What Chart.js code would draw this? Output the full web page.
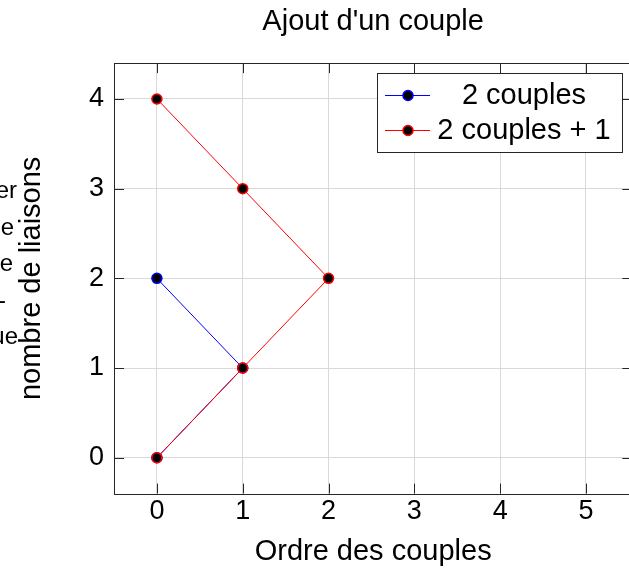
<!DOCTYPE html>
<html>
<head>
<meta charset="utf-8">
<style>
  html, body { margin: 0; padding: 0; overflow: hidden; background: #fff; width: 629px; height: 570px; }
  #wrap { position: relative; width: 640px; height: 570px; }
</style>
<script src="https://cdn.jsdelivr.net/npm/chart.js@4/dist/chart.umd.min.js"></script>
</head>
<body>
<div id="wrap"><canvas id="c" width="640" height="570"></canvas></div>
<script>
// Series: order of the couple (x) against number of links (y), points joined in order
const orderTwoCouples = [0, 1, 0];
const linksTwoCouples = [2, 1, 0];
const orderTwoCouplesPlusOne = [0, 1, 2, 1, 0];
const linksTwoCouplesPlusOne = [4, 3, 2, 1, 0];

const seriesNames = ['2 couples', '2 couples + 1'];
const xTickValues = [0, 1, 2, 3, 4, 5];
const yTickValues = [0, 1, 2, 3, 4];

const chartTitle = "Ajout d'un couple";
const xAxisTitle = 'Ordre des couples';
const yAxisTitle = 'nombre de liaisons';
// Second label block, mostly running off the left edge of the figure
const sideLabelLines = ['liaisons à ajouter', 'pour relier le', 'nouveau couple', 'au graphe -', 'ordre unique'];

const FONT = "'Liberation Sans', Arial, Helvetica, sans-serif";
const AXIS_COLOR = '#262626';
const GRID_COLOR = '#d9d9d9';

const toPoints = (xs, ys) => xs.map((x, i) => ({ x: x, y: ys[i] }));

// Frame around the plot area with inward tick marks on all four sides
const framePlugin = {
  id: 'frame',
  beforeDatasetsDraw(chart) {
    const { ctx, chartArea: a, scales } = chart;
    const len = 10;
    ctx.save();
    ctx.strokeStyle = AXIS_COLOR;
    ctx.lineWidth = 1;
    ctx.beginPath();
    scales.x.ticks.forEach(t => {
      const px = Math.round(scales.x.getPixelForValue(t.value)) + 0.5;
      ctx.moveTo(px, a.bottom); ctx.lineTo(px, a.bottom - len);
      ctx.moveTo(px, a.top); ctx.lineTo(px, a.top + len);
    });
    scales.y.ticks.forEach(t => {
      const py = Math.round(scales.y.getPixelForValue(t.value)) + 0.5;
      ctx.moveTo(a.left, py); ctx.lineTo(a.left + len, py);
      ctx.moveTo(a.right, py); ctx.lineTo(a.right - len, py);
    });
    ctx.stroke();
    ctx.strokeRect(Math.round(a.left) + 0.5, Math.round(a.top) + 0.5,
                   Math.round(a.right - a.left), Math.round(a.bottom - a.top));
    ctx.restore();
  }
};

// Boxed legend in the upper right corner of the axes
const boxLegendPlugin = {
  id: 'boxLegend',
  afterDraw(chart) {
    const { ctx } = chart;
    const box = { x: 377.5, y: 73.5, w: 245, h: 79 };
    ctx.save();
    ctx.fillStyle = '#fff';
    ctx.fillRect(box.x, box.y, box.w, box.h);
    ctx.strokeStyle = AXIS_COLOR;
    ctx.lineWidth = 1;
    ctx.strokeRect(box.x, box.y, box.w, box.h);
    const rows = [95, 130];
    chart.data.datasets.forEach((ds, i) => {
      const y = rows[i];
      ctx.strokeStyle = ds.borderColor;
      ctx.lineWidth = 1;
      ctx.beginPath();
      ctx.moveTo(385, y + 0.5); ctx.lineTo(430, y + 0.5);
      ctx.stroke();
      ctx.beginPath();
      ctx.arc(408, y + 0.5, ds.pointRadius, 0, Math.PI * 2);
      ctx.fillStyle = ds.pointBackgroundColor;
      ctx.fill();
      ctx.lineWidth = ds.pointBorderWidth;
      ctx.strokeStyle = ds.pointBorderColor;
      ctx.stroke();
      ctx.fillStyle = '#000';
      ctx.font = '29px ' + FONT;
      ctx.textAlign = 'center';
      ctx.textBaseline = 'middle';
      ctx.fillText(ds.label, 524, y + 1);
    });
    ctx.restore();
  }
};

// Horizontal label lines at the far left edge
const sideLabelPlugin = {
  id: 'sideLabel',
  afterDraw(chart) {
    const { ctx } = chart;
    const ends = [17, 14, 13, 6, 18];
    ctx.save();
    ctx.fillStyle = '#000';
    ctx.font = '24px ' + FONT;
    ctx.textAlign = 'right';
    ctx.textBaseline = 'alphabetic';
    sideLabelLines.forEach((line, i) => {
      ctx.fillText(line, ends[i], 198 + i * 36.5);
    });
    ctx.restore();
  }
};

new Chart(document.getElementById('c'), {
  type: 'scatter',
  data: {
    datasets: [
      {
        label: seriesNames[0],
        data: toPoints(orderTwoCouples, linksTwoCouples),
        showLine: true,
        borderColor: '#0000ff',
        borderWidth: 1,
        pointRadius: 5,
        pointBorderWidth: 1.5,
        pointBackgroundColor: '#000',
        pointBorderColor: '#0000ff',
        order: 2
      },
      {
        label: seriesNames[1],
        data: toPoints(orderTwoCouplesPlusOne, linksTwoCouplesPlusOne),
        showLine: true,
        borderColor: '#ff0000',
        borderWidth: 1,
        pointRadius: 5,
        pointBorderWidth: 1.5,
        pointBackgroundColor: '#000',
        pointBorderColor: '#ff0000',
        order: 1
      }
    ]
  },
  options: {
    responsive: false,
    animation: false,
    devicePixelRatio: 1,
    layout: { padding: { left: 0, right: 7.7, top: 0, bottom: 0 } },
    plugins: {
      legend: { display: false },
      tooltip: { enabled: false },
      title: {
        display: true,
        text: chartTitle,
        fullSize: false,
        color: '#000',
        font: { family: FONT, size: 29, weight: 'normal' },
        padding: { top: 4.3, bottom: 24 }
      }
    },
    scales: {
      x: {
        type: 'linear',
        min: -0.5,
        max: 5.54,
        afterBuildTicks: s => { s.ticks = xTickValues.map(v => ({ value: v })); },
        afterFit: s => { s.height = 76.4; },
        ticks: { color: '#000', font: { family: FONT, size: 27 }, padding: 2.2, maxRotation: 0 },
        grid: { color: GRID_COLOR, lineWidth: 1, drawTicks: false },
        border: { display: false },
        title: {
          display: true,
          text: xAxisTitle,
          color: '#000',
          font: { family: FONT, size: 29 },
          padding: { top: 0, bottom: 1 }
        }
      },
      y: {
        type: 'linear',
        min: -0.4,
        max: 4.4,
        afterBuildTicks: s => { s.ticks = yTickValues.map(v => ({ value: v })); },
        afterFit: s => { s.width = 114; },
        ticks: { color: '#000', font: { family: FONT, size: 27 }, padding: 10 },
        grid: { color: GRID_COLOR, lineWidth: 1, drawTicks: false },
        border: { display: false },
        title: {
          display: true,
          text: yAxisTitle,
          color: '#000',
          font: { family: FONT, size: 29 },
          padding: { top: 15, bottom: 0 }
        }
      }
    }
  },
  plugins: [framePlugin, sideLabelPlugin, boxLegendPlugin]
});
</script>
</body>
</html>
